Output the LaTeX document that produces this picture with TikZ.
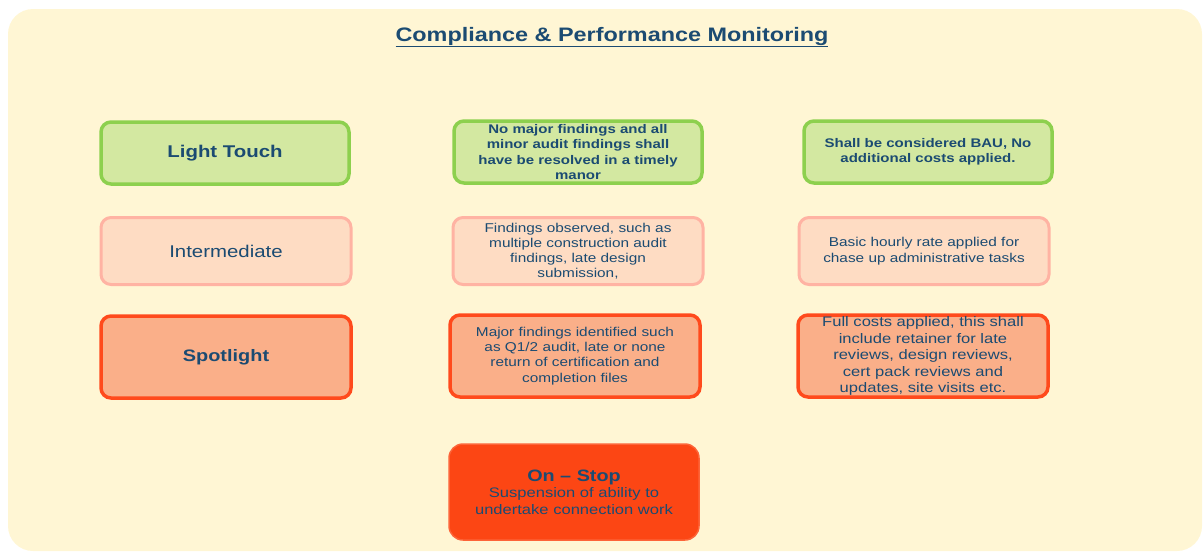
\documentclass[tikz,border=0pt]{standalone}
\usepackage{fontspec}
\setmainfont[FakeStretch=1.2]{Liberation Sans}
\definecolor{cream}{HTML}{FFF6D4}
\definecolor{inkblue}{HTML}{1B4B72}
\definecolor{lightline}{HTML}{8DD04E}
\definecolor{lightfill}{HTML}{D3E8A1}
\definecolor{midline}{HTML}{FFB3A3}
\definecolor{midfill}{HTML}{FEDCC3}
\definecolor{spotline}{HTML}{FF4A1C}
\definecolor{spotfill}{HTML}{FAAF89}
\definecolor{stopfill}{HTML}{FC4614}
\definecolor{stopline}{HTML}{FD6438}
\begin{document}
\begin{tikzpicture}[x=1pt,y=-1pt,
    level/.style={rounded corners=10pt, minimum width=#1, align=center,
      text=inkblue, inner sep=0pt},
    light/.style={level=248pt, draw=lightline, fill=lightfill, line width=3.5pt, minimum height=62pt},
    mid/.style={level=250pt, draw=midline, fill=midfill, line width=3pt, minimum height=67pt},
    spot/.style={level=250pt, draw=spotline, fill=spotfill, line width=3.5pt, minimum height=82pt},
    stop/.style={level=250pt, draw=stopline, fill=stopfill, line width=1.5pt, minimum height=96pt, rounded corners=14pt}]
  \useasboundingbox (0,0) rectangle (1203,552);
  \fill[cream, rounded corners=25pt] (8,9) rectangle (1202,551);

  % title
  \node[text=inkblue, font=\fontsize{19.5}{22}\selectfont\bfseries] (title) at (612,37)
    {\underline{Compliance \& Performance Monitoring}};

  % light touch row
  \node[light, font=\fontsize{17}{19}\selectfont\bfseries] (lt) at (225,153) {Light Touch};
  \node[light, font=\fontsize{12.5}{15.3}\selectfont\bfseries] (ltfind) at (578,152)
    {No major findings and all\\minor audit findings shall\\have be resolved in a timely\\manor};
  \node[light, font=\fontsize{12.5}{15.3}\selectfont\bfseries] (ltcost) at (928,152)
    {Shall be considered BAU, No\\additional costs applied.};

  % intermediate row
  \node[mid, font=\fontsize{17}{19}\selectfont] (im) at (226,251) {Intermediate};
  \node[mid, font=\fontsize{12.8}{15.2}\selectfont] (imfind) at (578,251)
    {Findings observed, such as\\multiple construction audit\\findings, late design\\submission,};
  \node[mid, font=\fontsize{12.8}{15.5}\selectfont] (imcost) at (924,251)
    {Basic hourly rate applied for\\chase up administrative tasks};

  % spotlight row
  \node[spot, font=\fontsize{16.6}{19}\selectfont\bfseries] (sp) at (226,357) {Spotlight};
  \node[spot, font=\fontsize{12.8}{15.3}\selectfont] (spfind) at (575,356)
    {Major findings identified such\\as Q1/2 audit, late or none\\return of certification and\\completion files};
  \node[spot, font=\fontsize{13.8}{16.5}\selectfont] (spcost) at (923,356)
    {Full costs applied, this shall\\include retainer for late\\reviews, design reviews,\\cert pack reviews and\\updates, site visits etc.};

  % on stop
  \node[stop, font=\fontsize{13.8}{16.5}\selectfont] (os) at (574,492)
    {{\fontsize{16.5}{18}\selectfont\bfseries On -- Stop}\\Suspension of ability to\\undertake connection work};
\end{tikzpicture}
\end{document}
